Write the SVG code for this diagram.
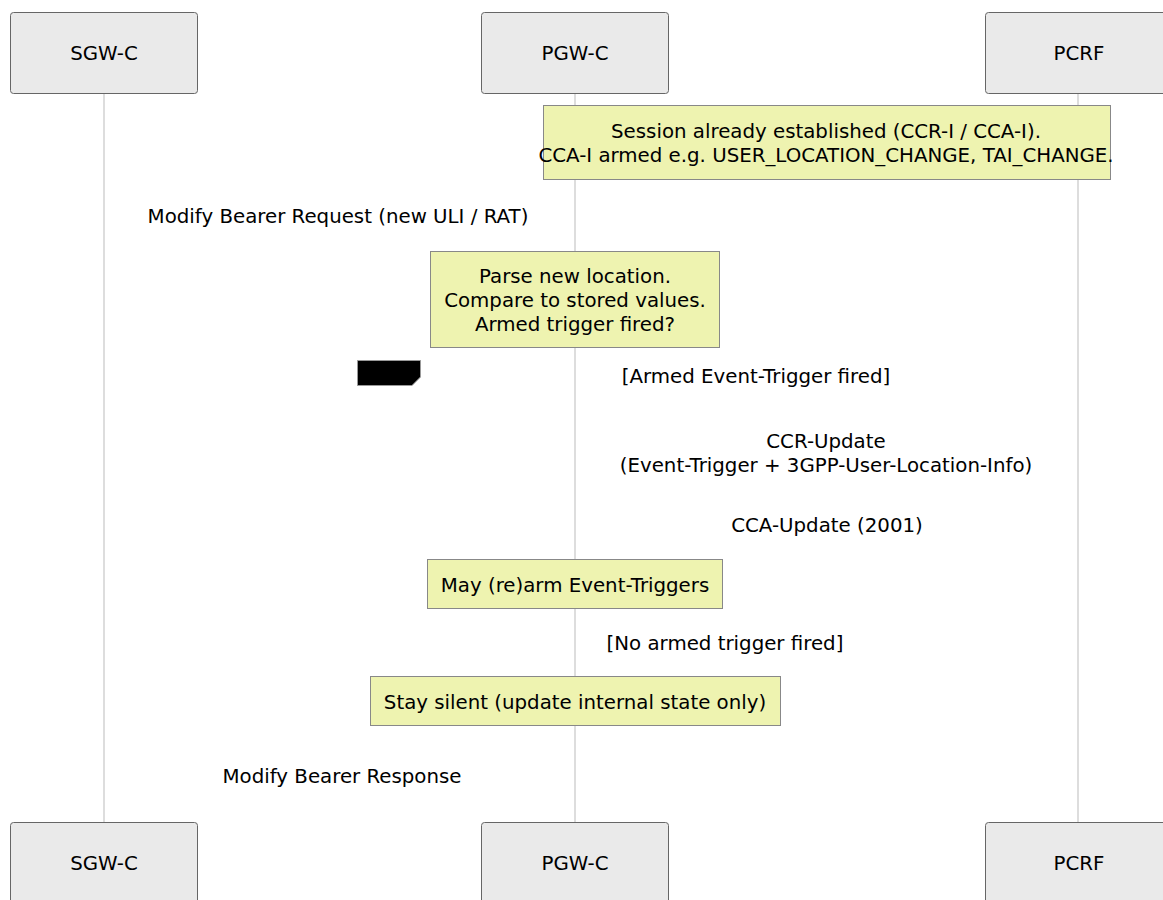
<svg xmlns="http://www.w3.org/2000/svg" width="1163" height="900" viewBox="0 0 1163 900">
<style>
text{font-family:"DejaVu Sans",Verdana,sans-serif;font-size:19.8px;fill:#000;text-anchor:middle;dominant-baseline:central}
.actor{fill:#eaeaea;stroke:#666;stroke-width:1}
.life{stroke:#bbb;stroke-width:1}
.note{fill:#eef3b0;stroke:#888;stroke-width:1}
</style>
<rect width="1163" height="900" fill="#fff"/>
<g id="lifelines">
<line class="life" x1="104" y1="93" x2="104" y2="822"/>
<line class="life" x1="575" y1="93" x2="575" y2="822"/>
<line class="life" x1="1078" y1="93" x2="1078" y2="822"/>
</g>
<g id="actor-sgw-top"><rect class="actor" x="10.5" y="12.5" width="187" height="81" rx="3"/><text x="104" y="53">SGW-C</text></g>
<g id="actor-pgw-top"><rect class="actor" x="481.5" y="12.5" width="187" height="81" rx="3"/><text x="575" y="53">PGW-C</text></g>
<g id="actor-pcrf-top"><rect class="actor" x="985.5" y="12.5" width="187" height="81" rx="3"/><text x="1079" y="53">PCRF</text></g>
<g id="actor-sgw-bottom"><rect class="actor" x="10.5" y="822.5" width="187" height="81" rx="3"/><text x="104" y="863">SGW-C</text></g>
<g id="actor-pgw-bottom"><rect class="actor" x="481.5" y="822.5" width="187" height="81" rx="3"/><text x="575" y="863">PGW-C</text></g>
<g id="actor-pcrf-bottom"><rect class="actor" x="985.5" y="822.5" width="187" height="81" rx="3"/><text x="1079" y="863">PCRF</text></g>
<g id="note-session"><rect class="note" x="543.5" y="105.5" width="567" height="74"/><text x="826" y="131">Session already established (CCR-I / CCA-I).</text><text x="826" y="155">CCA-I armed e.g. USER_LOCATION_CHANGE, TAI_CHANGE.</text></g>
<g id="note-parse"><rect class="note" x="430.5" y="251.5" width="289" height="96"/><text x="575" y="276">Parse new location.</text><text x="575" y="300">Compare to stored values.</text><text x="575" y="324">Armed trigger fired?</text></g>
<g id="alt-label"><polygon points="357.5,360.5 420.5,360.5 420.5,377 412,385.5 357.5,385.5" fill="#000" stroke="#999" stroke-width="1"/></g>
<g id="note-rearm"><rect class="note" x="427.5" y="559.5" width="295" height="49"/><text x="575" y="585">May (re)arm Event-Triggers</text></g>
<g id="note-silent"><rect class="note" x="370.5" y="676.5" width="410" height="49"/><text x="575" y="702">Stay silent (update internal state only)</text></g>
<g id="messages">
<text x="338" y="216">Modify Bearer Request (new ULI / RAT)</text>
<text x="756" y="376">[Armed Event-Trigger fired]</text>
<text x="826" y="441">CCR-Update</text>
<text x="826" y="465">(Event-Trigger + 3GPP-User-Location-Info)</text>
<text x="827" y="525">CCA-Update (2001)</text>
<text x="725" y="643">[No armed trigger fired]</text>
<text x="342" y="776">Modify Bearer Response</text>
</g>
</svg>
